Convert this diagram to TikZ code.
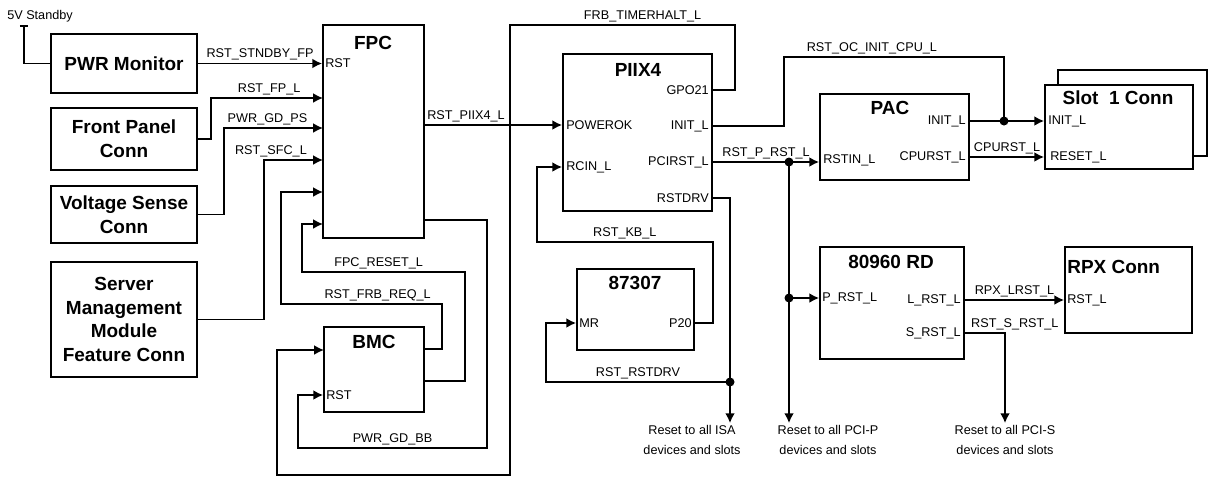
\documentclass[tikz,border=0pt]{standalone}
\usepackage{fontspec}
\setmainfont{Liberation Sans}
\usetikzlibrary{arrows.meta}
\def\px{0.025cm}

\begin{document}
\begin{tikzpicture}[x=0.025cm,y=-0.025cm,>={Latex[length=7pt,width=7pt]},
    box/.style={draw,line width=1.2pt,fill=white,inner sep=0pt,align=center,font=\fontsize{13.5}{17}\selectfont\bfseries},
    title/.style={font=\fontsize{13.5}{17}\selectfont\bfseries,inner sep=0pt},
    lbl/.style={font=\fontsize{9}{14}\selectfont,inner sep=1.5pt},
    pin/.style={font=\fontsize{9}{11}\selectfont,inner sep=0pt},
    sig/.style={line width=1.3pt},
    dot/.style={circle,fill,inner sep=0pt,minimum size=9*\px}]
    \useasboundingbox (0,0) rectangle (1208,476);

    \node[box,minimum width=146*\px,minimum height=59*\px] (pwr) at (124,63.5) {PWR Monitor};
    \node[box,minimum width=146*\px,minimum height=62*\px] (fp) at (124,139) {Front Panel\\Conn};
    \node[box,minimum width=146*\px,minimum height=57*\px] (vs) at (124,214.5) {Voltage Sense\\Conn};
    \node[box,minimum width=146*\px,minimum height=115*\px] (sm) at (124,319.5) {Server\\Management\\Module\\Feature Conn};

    \node[lbl,inner sep=0pt] (sbt) at (40,16) {5V Standby};
    \coordinate (sb) at (24,26);
    \draw[sig] (pwr.west) -| (sb);
    \draw[sig] ([xshift=-3pt]sb) -- ([xshift=3pt]sb);

    \node[box,minimum width=101*\px,minimum height=213*\px] (fpc) at (373.5,131.5) {};
    \node[title] (fpct) at (373,43) {FPC};
    \node[pin,anchor=west] (fpcrst) at (325,63.5) {RST};
    \coordinate (fpcin2) at (323,98);
    \coordinate (fpcin3) at (323,128);
    \coordinate (fpcin4) at (323,160);
    \coordinate (fpcin5) at (323,192);
    \coordinate (fpcin6) at (323,224);
    \coordinate (fpcout) at (424,220);

    \draw[sig,->] (pwr.east) -- node[lbl,above] {RST\_STNDBY\_FP} (pwr.east -| fpc.west);
    \draw[sig,->] (fp.east) -- ++(13,0) |- node[lbl,above,pos=0.76] {RST\_FP\_L} (fpcin2);
    \draw[sig,->] (vs.east) -- ++(26,0) |- node[lbl,above,pos=0.72] {PWR\_GD\_PS} (fpcin3);
    \draw[sig,->] (sm.east) -- ++(66,0) |- node[lbl,above,pos=0.56] {RST\_SFC\_L} (fpcin4);

    \node[box,minimum width=100*\px,minimum height=85*\px] (bmc) at (374,369.5) {};
    \node[title] (bmct) at (374,342) {BMC};
    \node[pin,anchor=west] (bmcrst) at (326,395) {RST};
    \coordinate (bmcin) at (324,350);
    \coordinate (bmcout1) at (424,349);
    \coordinate (bmcout2) at (424,381);

    \draw[sig,->] (bmcout1) -- ++(18,0) -- ++(0,-45) -- node[lbl,above,pos=0.4] {RST\_FRB\_REQ\_L} ++(-161,0) |- (fpcin5);
    \draw[sig,->] (bmcout2) -- ++(41,0) -- ++(0,-109) -- node[lbl,above,pos=0.53] {FPC\_RESET\_L} ++(-163,0) |- (fpcin6);
    \draw[sig,->] (fpcout) -- ++(63,0) -- ++(0,228) -- node[lbl,above] {PWR\_GD\_BB} ++(-189,0) |- (bmcrst -| bmc.west);

    \node[box,minimum width=149*\px,minimum height=157*\px] (piix) at (637.5,132.5) {};
    \node[title] (piixt) at (638,70) {PIIX4};
    \node[pin,anchor=east] (gpo) at (709,90) {GPO21};
    \node[pin,anchor=east] (pinit) at (709,126) {INIT\_L};
    \node[pin,anchor=east] (pcirst) at (709,162) {PCIRST\_L};
    \node[pin,anchor=east] (rstdrv) at (709,198) {RSTDRV};
    \node[pin,anchor=west] (pwrok) at (566,125) {POWEROK};
    \node[pin,anchor=west] (rcin) at (566,167) {RCIN\_L};

    \draw[sig,->] (pwrok -| fpc.east) -- node[lbl,above,pos=0.3] {RST\_PIIX4\_L} (pwrok -| piix.west);
    \draw[sig,->] (gpo -| piix.east) -- ++(22,0) -- ++(0,-65) -- node[lbl,above,pos=0.41] {FRB\_TIMERHALT\_L} ++(-225,0)
        -- ++(0,450) -- ++(-233,0) |- (bmcin);

    \node[box,minimum width=117*\px,minimum height=81*\px] (sio) at (635.5,309.5) {};
    \node[title] (siot) at (635,283) {87307};
    \node[pin,anchor=west] (mr) at (579,323) {MR};
    \node[pin,anchor=east] (p20) at (692,323) {P20};
    \draw[sig,->] (p20 -| sio.east) -- ++(18,0) -- ++(0,-81) -- node[lbl,above] {RST\_KB\_L} ++(-176,0) |- (rcin -| piix.west);

    \node[lbl,align=center] (isa) at (692,440) {Reset to all ISA\\devices and slots};
    \node[lbl,align=center] (pcip) at (828,440) {Reset to all PCI-P\\devices and slots};
    \node[lbl,align=center] (pcis) at (1005,440) {Reset to all PCI-S\\devices and slots};

    \node[dot] (isadot) at (730,382) {};
    \draw[sig] (rstdrv -| piix.east) -| (isadot.center);
    \draw[sig,->] (isadot.center) -- (isadot |- isa.north);
    \draw[sig,->] (isadot.center) -- node[lbl,above] {RST\_RSTDRV} ++(-184,0) |- (mr -| sio.west);

    \node[box,minimum width=149*\px,minimum height=86*\px] (pac) at (894.5,137) {};
    \node[title] (pact) at (890,108) {PAC};
    \node[pin,anchor=east] (pacinit) at (966,121) {INIT\_L};
    \node[pin,anchor=east] (paccpu) at (966,157) {CPURST\_L};
    \node[pin,anchor=west] (rstin) at (823,160) {RSTIN\_L};

    \node[box,minimum width=144*\px,minimum height=112*\px] (rd) at (892,303) {};
    \node[title] (rdt) at (891,262) {80960 RD};
    \node[pin,anchor=west] (prst) at (822,298) {P\_RST\_L};
    \node[pin,anchor=east] (lrst) at (961,300) {L\_RST\_L};
    \node[pin,anchor=east] (srst) at (961,333) {S\_RST\_L};

    \node[dot] (pdot) at (789,162) {};
    \node[dot] (pdot2) at (789,298) {};
    \draw[sig,->] (pcirst -| piix.east) -- node[lbl,above] {RST\_P\_RST\_L} (pcirst -| pac.west);
    \draw[sig,->] (pdot.center) -- (pdot |- pcip.north);
    \draw[sig,->] (pdot2.center) -- (prst -| rd.west);

    \node[box,minimum width=149*\px,minimum height=86*\px] (slotb) at (1132.5,113) {};
    \node[box,minimum width=148*\px,minimum height=84*\px] (slot) at (1119,127) {};
    \node[title] (slott) at (1118,98) {Slot\ \ 1 Conn};
    \node[pin,anchor=west] (slinit) at (1048,121) {INIT\_L};
    \node[pin,anchor=west] (slrst) at (1050,157) {RESET\_L};

    \node[dot] (initdot) at (1004,121) {};
    \draw[sig,->] (pacinit -| pac.east) -- (slinit -| slot.west);
    \draw[sig,->] (paccpu -| pac.east) -- node[lbl,above] {CPURST\_L} (paccpu -| slot.west);
    \draw[sig] (pinit -| piix.east) -- ++(71,0) -- ++(0,-69) -| node[lbl,above,pos=0.2] {RST\_OC\_INIT\_CPU\_L} (initdot.center);

    \node[box,minimum width=127*\px,minimum height=86*\px] (rpx) at (1128.5,290) {};
    \node[title,anchor=west] (rpxt) at (1067,267) {RPX Conn};
    \node[pin,anchor=west] (rpxrst) at (1067,300) {RST\_L};
    \draw[sig,->] (lrst -| rd.east) -- node[lbl,above] {RPX\_LRST\_L} (lrst -| rpx.west);
    \draw[sig,->] (srst -| rd.east) -| node[lbl,above,pos=0.5,xshift=7pt] {RST\_S\_RST\_L} (pcis.north);
\end{tikzpicture}
\end{document}
